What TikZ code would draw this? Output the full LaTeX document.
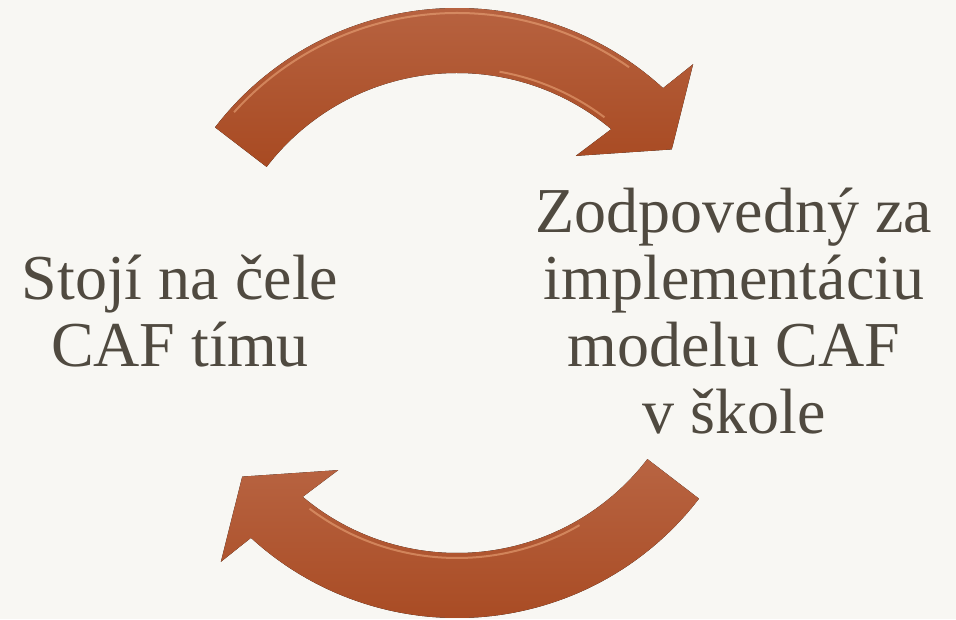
\documentclass[tikz,border=0pt]{standalone}
\usepackage{fontspec}
\setmainfont{Liberation Serif}
\usetikzlibrary{positioning}
\definecolor{paper}{RGB}{248,247,243}
\definecolor{ink}{RGB}{80,74,64}
\definecolor{copperlight}{RGB}{184,100,66}
\definecolor{copperdark}{RGB}{168,74,34}
\definecolor{shine}{RGB}{238,170,125}

\begin{document}
\begin{tikzpicture}[x=1pt, y=1pt,
					textblock/.style={text=ink, align=center, inner sep=0pt, font=\fontsize{64}{67}\selectfont},
					swoosh/.style={top color=copperlight, bottom color=copperdark},
					gleam/.style={draw=shine, line width=2pt, opacity=0.55}
				]
				\useasboundingbox (0,0) rectangle (956,619);
				\fill[paper] (0,0) rectangle (956,619);
				\coordinate (hub) at (457,306);
				\node[textblock] (leader) at (180,308) {Stojí na čele\\CAF tímu};
				\node[textblock] (duty) at (734,308) {Zodpovedný za\\implementáciu\\modelu CAF\\v škole};
				\begin{scope}[shift={(hub)}]
				% top arrow, leader -> duty
				\fill[swoosh] (142.5:305) arc[start angle=142.5, end angle=47.5, radius=305pt]
					-- (46.5:343) -- (37.3:270) -- (52.9:197) -- (50:240)
					arc[start angle=50, end angle=142.5, radius=240pt] -- cycle;
				\draw[gleam] (138:300) arc[start angle=138, end angle=55, radius=300pt];
				\draw[gleam] (53:245) arc[start angle=53, end angle=80, radius=245pt];
				% bottom arrow, duty -> leader
				\fill[swoosh] (322.5:305) arc[start angle=322.5, end angle=227.5, radius=305pt]
					-- (226.5:343) -- (217.3:270) -- (232.9:197) -- (230:240)
					arc[start angle=230, end angle=322.5, radius=240pt] -- cycle;
				\draw[gleam] (233:245) arc[start angle=233, end angle=300, radius=245pt];
				\end{scope}
				\end{tikzpicture}
\end{document}
